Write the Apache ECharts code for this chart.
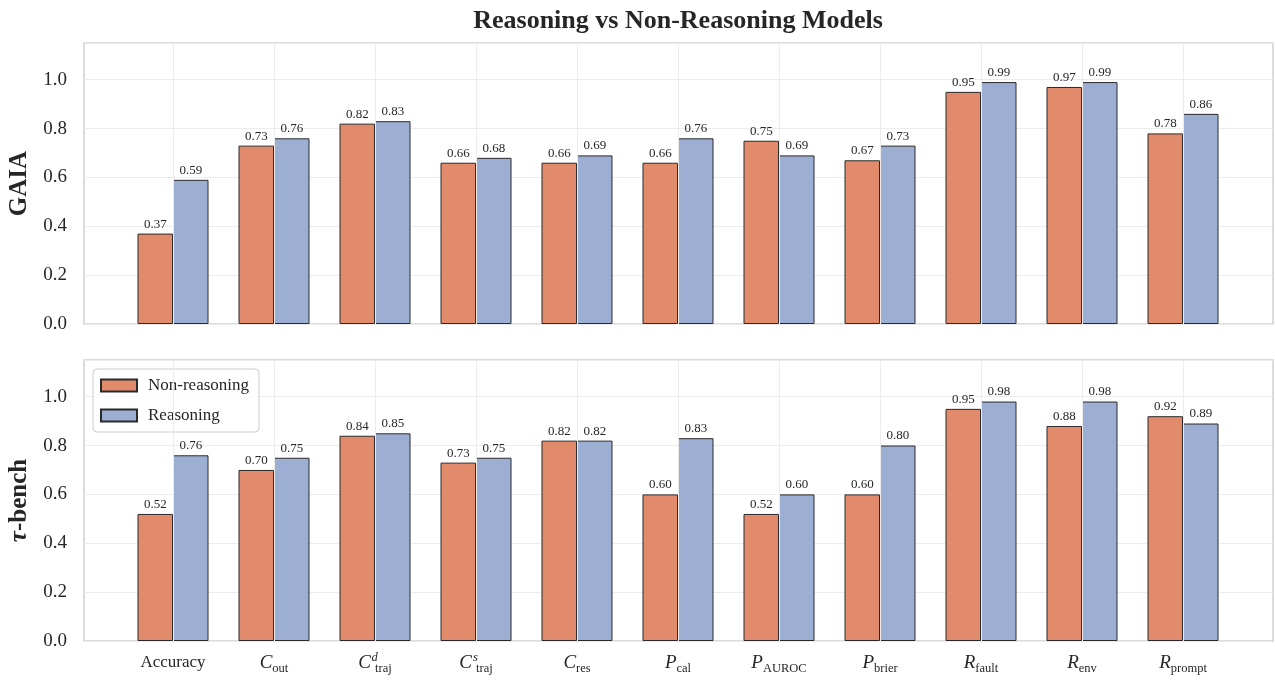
<!DOCTYPE html>
<html>
<head>
<meta charset="utf-8">
<script src="https://cdn.jsdelivr.net/npm/echarts@6/dist/echarts.min.js"></script>
<style>html,body{margin:0;padding:0;background:#fff;}#c{width:1275px;height:685px;}</style>
</head>
<body>
<div id="c"></div>
<script>
// ---- data ----
const categories = ['Accuracy','C_out','C_traj^d','C_traj^s','C_res','P_cal','P_AUROC','P_brier','R_fault','R_env','R_prompt'];
const tickLabels = [
  '{rm|Accuracy}',
  '{it|C}{sub|out}',
  '{it|C}{sup|d}{sub|traj}',
  '{it|C}{sup|s}{sub|traj}',
  '{it|C}{sub|res}',
  '{it|P}{sub|cal}',
  '{it|P}{sub|AUROC}',
  '{it|P}{sub|brier}',
  '{it|R}{sub|fault}',
  '{it|R}{sub|env}',
  '{it|R}{sub|prompt}'
];
const seriesNames = ['Non-reasoning', 'Reasoning'];
const gaiaNon = [0.37, 0.73, 0.82, 0.66, 0.66, 0.66, 0.75, 0.67, 0.95, 0.97, 0.78];
const gaiaRea = [0.59, 0.76, 0.83, 0.68, 0.69, 0.76, 0.69, 0.73, 0.99, 0.99, 0.86];
const tauNon  = [0.52, 0.70, 0.84, 0.73, 0.82, 0.60, 0.52, 0.60, 0.95, 0.88, 0.92];
const tauRea  = [0.76, 0.75, 0.85, 0.75, 0.82, 0.83, 0.60, 0.80, 0.98, 0.98, 0.89];
const yTicks = [0.0, 0.2, 0.4, 0.6, 0.8, 1.0];

// ---- styling ----
const FONT = '"Liberation Serif", "DejaVu Serif", serif';
const TXT = '#262626';
const COLORS = ['#E28B6C', '#9DAED3'];
const FRAME_LEFT = 84, FRAME_W = 1189;
const BAR_LEFT = 122.5, BAR_W = 1111;
const panels = [
  { top: 43, height: 281, nameRich: '{b|GAIA}', data: [gaiaNon, gaiaRea], showX: false },
  { top: 360, height: 281, nameRich: '{bi|τ}{b|-bench}', data: [tauNon, tauRea], showX: true }
];

const grid = [], xAxis = [], yAxis = [], series = [];
panels.forEach((p, pi) => {
  const gFrame = pi * 2, gBar = pi * 2 + 1;
  grid.push({ left: FRAME_LEFT, top: p.top, width: FRAME_W, height: p.height, containLabel: false,
              outerBoundsMode: 'none',
              show: true, borderColor: '#cfcfcf', borderWidth: 1.5, backgroundColor: 'transparent' });
  grid.push({ left: BAR_LEFT, top: p.top, width: BAR_W, height: p.height, containLabel: false,
              outerBoundsMode: 'none' });
  xAxis.push({ type: 'value', gridIndex: gFrame, min: 0, max: 1, show: false });
  xAxis.push({ type: 'category', gridIndex: gBar, data: categories, boundaryGap: true,
    axisLine: { show: false }, axisTick: { show: false }, splitLine: { show: false },
    axisLabel: { show: p.showX, margin: 10, interval: 0, color: TXT,
      formatter: (v, i) => tickLabels[i],
      rich: {
        rm: { fontFamily: FONT, fontSize: 17, color: TXT, lineHeight: 24, verticalAlign: 'middle' },
        it: { fontFamily: FONT, fontSize: 19, fontStyle: 'italic', color: TXT, lineHeight: 24, verticalAlign: 'middle' },
        sub: { fontFamily: FONT, fontSize: 12.5, color: TXT, lineHeight: 14, verticalAlign: 'bottom' },
        sup: { fontFamily: FONT, fontSize: 12.5, fontStyle: 'italic', color: TXT, lineHeight: 13, verticalAlign: 'top',
               width: 1, padding: [0, 0, 0, 3] }
      } } });
  yAxis.push({ type: 'value', gridIndex: gFrame, min: 0, max: 1.15, interval: 0.2,
    axisLine: { show: false }, axisTick: { show: false },
    splitLine: { show: true, lineStyle: { color: '#ececec', width: 1 } },
    axisLabel: { color: TXT, fontFamily: FONT, fontSize: 19, margin: 17,
      formatter: v => (yTicks.some(t => Math.abs(t - v) < 1e-6) ? v.toFixed(1) : '') },
    name: p.nameRich, nameLocation: 'middle', nameRotate: 90, nameGap: 51,
    nameTextStyle: { rich: {
      b: { fontFamily: FONT, fontSize: 25, fontWeight: 'bold', color: TXT },
      bi: { fontFamily: FONT, fontSize: 25, fontWeight: 'bold', fontStyle: 'italic', color: TXT }
    } } });
  yAxis.push({ type: 'value', gridIndex: gBar, min: 0, max: 1.15, show: false });

  // vertical grid lines at category centres
  series.push({ type: 'line', xAxisIndex: gBar, yAxisIndex: gBar, data: [], z: 1, silent: true,
    markLine: { symbol: 'none', silent: true, animation: false, label: { show: false },
      lineStyle: { color: '#ececec', width: 1, type: 'solid' },
      data: categories.map(c => ({ xAxis: c })) } });

  p.data.forEach((vals, si) => {
    series.push({
      name: seriesNames[si], type: 'bar', xAxisIndex: gBar, yAxisIndex: gBar,
      data: vals, barWidth: 35.5, barGap: '0%', z: 3,
      itemStyle: { color: COLORS[si], borderColor: '#2a2a2a', borderWidth: 1 },
      label: { show: true, position: 'top', distance: 3, color: TXT, fontFamily: FONT, fontSize: 13,
        formatter: d => d.value.toFixed(2) }
    });
  });
});

const chart = echarts.init(document.getElementById('c'), null, { renderer: 'canvas' });
chart.setOption({
  animation: false,
  backgroundColor: '#ffffff',
  grid, xAxis, yAxis, series,
  legend: {
    data: seriesNames, orient: 'vertical', left: 93, top: 369,
    padding: [8, 10, 8, 7], itemGap: 13, itemWidth: 36, itemHeight: 12, icon: 'rect',
    backgroundColor: 'rgba(255,255,255,0.85)', borderColor: '#cccccc', borderWidth: 1, borderRadius: 4,
    textStyle: { fontFamily: FONT, fontSize: 17, color: TXT, padding: [0, 0, 0, 6] }
  },
  graphic: [{ type: 'text', x: 678, y: 21, z: 10,
    style: { text: 'Reasoning vs Non-Reasoning Models', font: 'bold 26px "Liberation Serif", serif',
      fill: TXT, textAlign: 'center', textVerticalAlign: 'middle' } }]
});
</script>
</body>
</html>
